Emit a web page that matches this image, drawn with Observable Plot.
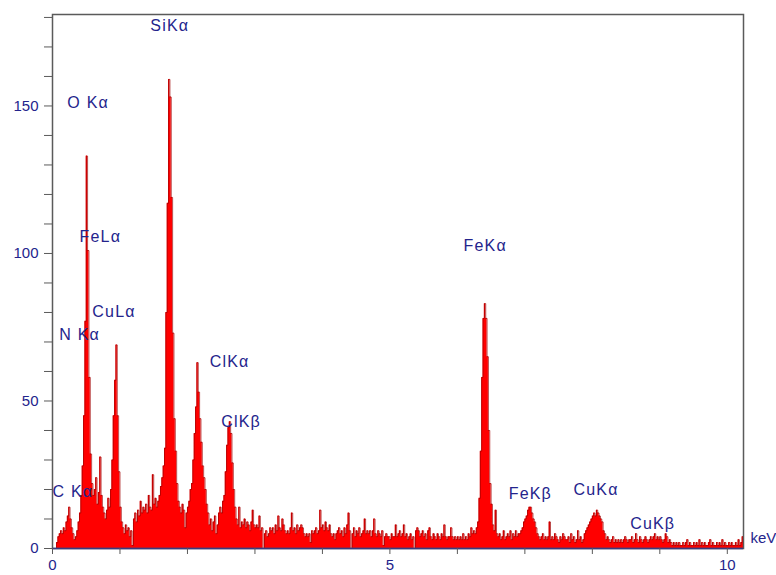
<!DOCTYPE html>
<html>
<head>
<meta charset="utf-8">
<script src="https://cdn.jsdelivr.net/npm/d3@7"></script>
<script src="https://cdn.jsdelivr.net/npm/@observablehq/plot@0.6"></script>
<style>
  html, body { margin: 0; padding: 0; background: #fff; }
  #chart { width: 776px; height: 575px; }
  .peak-labels text { letter-spacing: 1.2px; }
</style>
</head>
<body>
<div id="chart"></div>
<script>
// Energy channel width (keV)
const channelWidth = 0.02;
// Counts per channel, channel i spans [i*0.02, (i+1)*0.02] keV
const counts = [
  0, 0, 0, 2, 4, 5, 6, 5, 7, 6,
  9, 11, 14, 10, 7, 5, 3, 4, 6, 9,
  12, 18, 28, 45, 77, 133, 101, 58, 32, 22,
  18, 20, 24, 15, 19, 31, 18, 14, 12, 10,
  13, 17, 14, 20, 30, 45, 57, 69, 45, 26,
  14, 9, 7, 5, 8, 6, 7, 4, 6, 1,
  10, 12, 9, 13, 11, 16, 12, 14, 13, 15,
  12, 18, 14, 13, 25, 15, 17, 14, 16, 18,
  21, 24, 28, 34, 80, 117, 159, 153, 119, 73,
  44, 33, 22, 16, 14, 12, 15, 13, 7, 12,
  14, 16, 20, 22, 30, 39, 48, 63, 53, 44,
  36, 28, 24, 20, 15, 12, 8, 10, 6, 9,
  11, 5, 8, 12, 14, 12, 16, 18, 26, 35,
  41, 43, 39, 29, 20, 14, 10, 8, 14, 7,
  9, 8, 10, 7, 9, 8, 6, 9, 13, 8,
  7, 8, 7, 11, 6, 7, 0, 5, 6, 4,
  5, 7, 6, 7, 5, 8, 6, 11, 7, 6,
  10, 8, 6, 5, 6, 5, 7, 12, 6, 7,
  5, 8, 6, 7, 8, 7, 5, 4, 5, 4,
  5, 2, 6, 5, 6, 7, 5, 6, 13, 7,
  8, 6, 9, 7, 6, 8, 5, 4, 5, 3,
  5, 6, 7, 5, 6, 4, 7, 5, 8, 12,
  6, 0, 5, 7, 4, 6, 5, 7, 4, 5,
  6, 10, 5, 6, 5, 6, 4, 6, 10, 5,
  4, 6, 5, 4, 6, 1, 4, 5, 4, 4,
  3, 5, 4, 4, 8, 4, 5, 6, 4, 5,
  8, 4, 5, 3, 4, 5, 3, 4, 0, 6,
  7, 6, 4, 5, 6, 4, 5, 3, 6, 7,
  4, 3, 5, 4, 3, 5, 4, 3, 5, 4,
  8, 4, 3, 4, 4, 7, 4, 3, 4, 3,
  4, 3, 4, 3, 5, 3, 4, 3, 5, 4,
  7, 5, 6, 5, 7, 9, 17, 33, 58, 78,
  83, 78, 65, 40, 22, 15, 8, 6, 13, 5,
  4, 5, 3, 4, 6, 3, 4, 5, 4, 6,
  3, 5, 4, 6, 4, 5, 5, 6, 7, 9,
  10, 11, 13, 14, 14, 12, 10, 9, 7, 5,
  4, 3, 4, 5, 3, 4, 3, 4, 9, 3,
  4, 3, 5, 4, 3, 2, 4, 3, 5, 4,
  3, 3, 4, 2, 5, 3, 4, 2, 3, 6,
  3, 4, 2, 3, 5, 6, 7, 8, 9, 10,
  11, 12, 11, 13, 12, 11, 10, 9, 6, 5,
  3, 4, 3, 2, 3, 4, 2, 3, 2, 3,
  2, 3, 2, 3, 4, 3, 2, 3, 3, 4,
  2, 3, 5, 3, 2, 4, 3, 2, 3, 4,
  3, 2, 3, 4, 3, 4, 5, 3, 4, 3,
  4, 3, 2, 3, 5, 4, 2, 3, 2, 1,
  2, 1, 2, 1, 2, 1, 1, 2, 1, 2,
  3, 1, 2, 1, 1, 2, 1, 2, 1, 3,
  1, 2, 1, 2, 1, 1, 2, 3, 1, 2,
  1, 1, 2, 1, 2, 1, 3, 1, 2, 1,
  1, 2, 1, 2, 1, 1, 2, 1, 3, 1,
  2, 4
];

// Peak annotations
const peakNames = ["SiKα", "O Kα", "FeLα", "CuLα", "N Kα", "ClKα", "ClKβ", "C Kα", "FeKα", "FeKβ", "CuKα", "CuKβ"];
const peakX     = [1.45, 0.22, 0.40, 0.59, 0.10, 2.33, 2.50, 0.00, 6.09, 6.76, 7.72, 8.56];
const peakY     = [177, 151, 105.5, 80.3, 72.5, 63.3, 43, 19.3, 102.6, 18.6, 20, 8.5];

// Axis ticks
const xTicks = [0, 1, 2, 3, 4, 5, 6, 7, 8, 9, 10];
const xTickLabels = [0, 5, 10];
const yTicks = [0, 10, 20, 30, 40, 50, 60, 70, 80, 90, 100, 110, 120, 130, 140, 150, 160, 170, 180];
const yTickLabels = [0, 50, 100, 150];
const xMax = 10.24;
const yMax = 181;
const unitLabel = "keV";

const spectrum = counts.map((c, i) => ({e: i * channelWidth, c}));
spectrum.push({e: counts.length * channelWidth, c: counts[counts.length - 1]});
const peaks = peakNames.map((name, i) => ({name, x: peakX[i], y: peakY[i]}));

const navy = "#24248c";
const font = "'Liberation Sans', Arial, Helvetica, sans-serif";

const chart = Plot.plot({
  width: 776,
  height: 575,
  marginLeft: 52,
  marginRight: 33,
  marginTop: 14,
  marginBottom: 27,
  style: {fontFamily: font, background: "#fff"},
  x: {domain: [0, xMax]},
  y: {domain: [0, yMax]},
  marks: [
    Plot.areaY(spectrum, {x: "e", y: "c", curve: "step-after", fill: "#ff0000"}),
    Plot.lineY(spectrum, {x: "e", y: "c", curve: "step-after", stroke: "#a00000", strokeWidth: 0.7}),
    Plot.frame({stroke: "#5a5a5a", strokeWidth: 1.5}),
    Plot.ruleY([0], {stroke: "#3a3a80", strokeWidth: 1.5}),
    Plot.axisY({
      ticks: yTicks, tickSize: 8, tickPadding: 6,
      tickFormat: d => yTickLabels.includes(d) ? String(d) : "",
      stroke: "#5a5a5a", fill: navy, fontSize: 15, label: null
    }),
    Plot.axisX({
      ticks: xTicks, tickSize: 6, tickPadding: 5,
      tickFormat: d => xTickLabels.includes(d) ? String(d) : "",
      stroke: "#5a5a5a", fill: navy, fontSize: 15, label: null
    }),
    Plot.text(peaks, {x: "x", y: "y", text: "name", textAnchor: "start", fill: navy, fontSize: 16, fontFamily: font, className: "peak-labels"}),
    Plot.text([unitLabel], {x: xMax, y: 3.4, text: d => d, textAnchor: "start", dx: 7, fill: navy, fontSize: 15, fontFamily: font})
  ]
});
document.getElementById("chart").appendChild(chart);
</script>
</body>
</html>
